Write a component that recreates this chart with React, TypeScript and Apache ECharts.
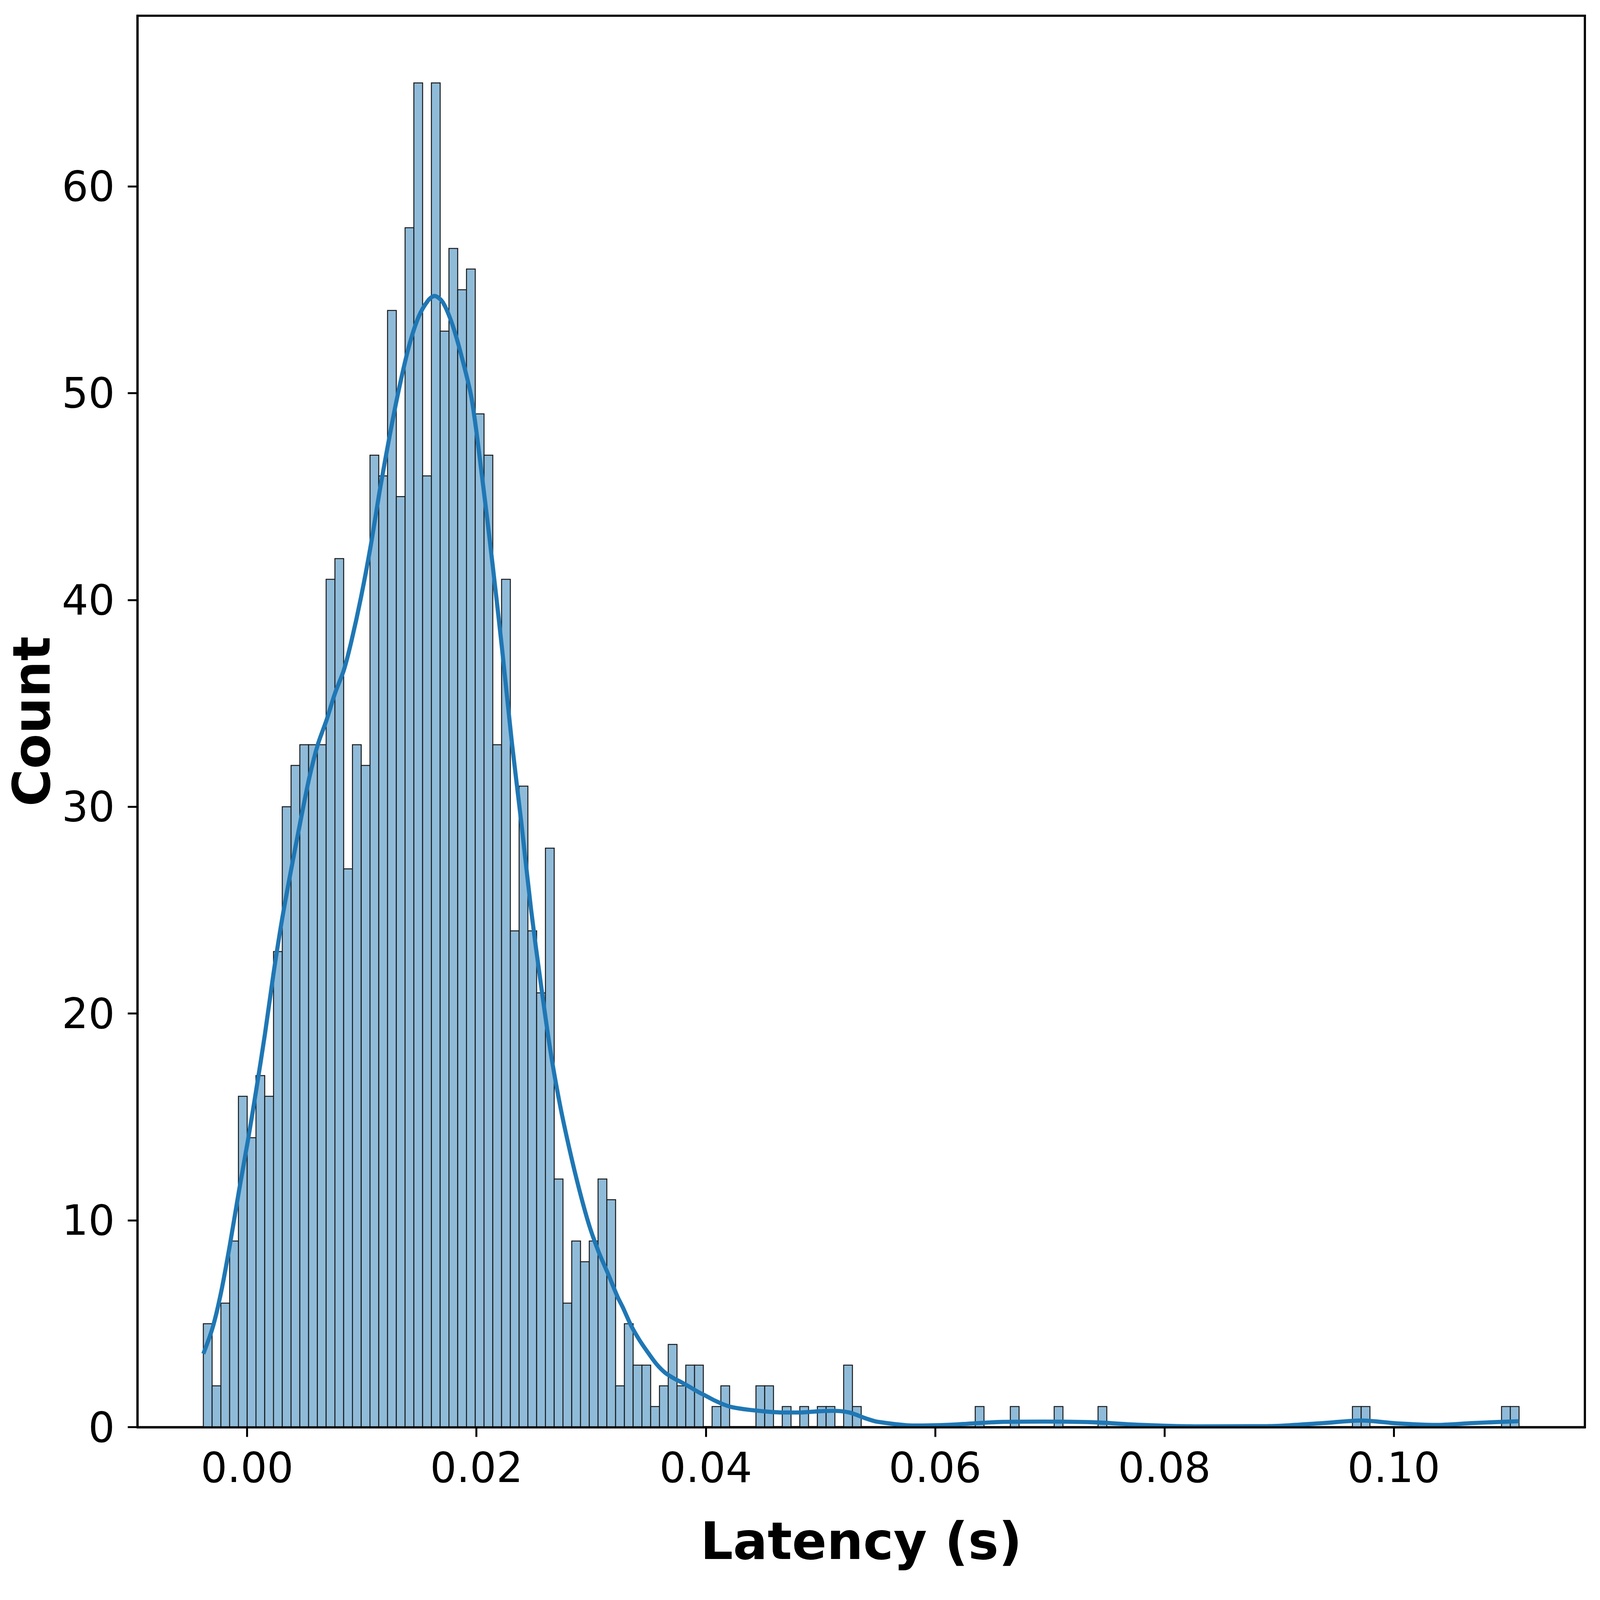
import * as echarts from "echarts";
import { useEffect, useRef, useState } from "react";

// histogram bins (150 equal bins)
const binStart = -0.00382;
const binWidth = 0.000765;
const counts = [
  5, 2, 6, 9, 16, 14, 17, 16, 23, 30,
  32, 33, 33, 33, 41, 42, 27, 33, 32, 47,
  46, 54, 45, 58, 65, 46, 65, 53, 57, 55,
  56, 49, 47, 33, 41, 24, 31, 24, 21, 28,
  12, 6, 9, 8, 9, 12, 11, 2, 5, 3,
  3, 1, 2, 4, 2, 3, 3, 0, 1, 2,
  0, 0, 0, 2, 2, 0, 1, 0, 1, 0,
  1, 1, 0, 3, 1, 0, 0, 0, 0, 0,
  0, 0, 0, 0, 0, 0, 0, 0, 1, 0,
  0, 0, 1, 0, 0, 0, 0, 1, 0, 0,
  0, 0, 1, 0, 0, 0, 0, 0, 0, 0,
  0, 0, 0, 0, 0, 0, 0, 0, 0, 0,
  0, 0, 0, 0, 0, 0, 0, 0, 0, 0,
  0, 1, 1, 0, 0, 0, 0, 0, 0, 0,
  0, 0, 0, 0, 0, 0, 0, 0, 1, 1,
];

// KDE curve
const kdeX = [
  -0.00382, -0.003, -0.00227, -0.00151, -0.00072, 0.00008, 0.00079, 0.00155,
  0.00229, 0.00306, 0.00385, 0.00465, 0.00542, 0.00616, 0.00693, 0.00767,
  0.00843, 0.00909, 0.00992, 0.01077, 0.0116, 0.01245, 0.01328, 0.01413,
  0.01496, 0.01581, 0.01634, 0.01706, 0.01791, 0.01874, 0.01959, 0.02048,
  0.02141, 0.02224, 0.02309, 0.02392, 0.02477, 0.0256, 0.02645, 0.02728,
  0.02813, 0.02896, 0.02981, 0.03064, 0.03149, 0.03231, 0.03276, 0.0335,
  0.03423, 0.03497, 0.03569, 0.03644, 0.03716, 0.03788, 0.03862, 0.03935,
  0.04009, 0.04081, 0.04155, 0.04228, 0.04374, 0.04521, 0.04668, 0.04814,
  0.04959, 0.05105, 0.05252, 0.05398, 0.05498, 0.05817, 0.06136, 0.06558,
  0.06949, 0.07372, 0.07763, 0.0826, 0.089, 0.09388, 0.09715, 0.1004,
  0.10366, 0.10691, 0.11093,
];
const kdeY = [
  3.55, 4.83, 6.53, 8.8, 11.4, 13.9, 16.3, 19.0,
  21.9, 24.6, 27.0, 29.3, 31.4, 33.0, 34.2, 35.5,
  36.6, 38.0, 40.1, 42.6, 45.4, 48.0, 50.3, 52.3,
  53.7, 54.5, 54.7, 54.4, 53.3, 51.7, 49.7, 46.0,
  41.7, 37.6, 33.1, 29.2, 25.0, 21.5, 18.2, 15.6,
  13.4, 11.5, 9.8, 8.5, 7.4, 6.3, 5.8, 4.9,
  4.2, 3.6, 3.06, 2.64, 2.38, 2.17, 1.94, 1.7,
  1.49, 1.28, 1.1, 0.97, 0.84, 0.76, 0.71, 0.71,
  0.76, 0.79, 0.71, 0.42, 0.26, 0.08, 0.12, 0.25,
  0.27, 0.24, 0.12, 0.04, 0.05, 0.2, 0.32, 0.18,
  0.11, 0.2, 0.29,
];

const xTicks = [0, 0.02, 0.04, 0.06, 0.08, 0.1];
const yTicks = [0, 10, 20, 30, 40, 50, 60];

// reference canvas size; the layout below is in these pixels
const W = 6562;
const H = 4879;

export default function App() {
  const chartRef = useRef<HTMLDivElement | null>(null);
  const [size] = useState(() => ({
    w: window.innerWidth || W,
    h: window.innerHeight || H,
  }));

  useEffect(() => {
    const el = chartRef.current;
    if (!el) return;
    const chart = echarts.init(el, undefined, { renderer: "svg" });

    // scale everything to the viewport that we actually get
    const sx = size.w / W;
    const sy = size.h / H;
    const s = Math.min(sx, sy);

    const bins = counts.map((c, i) => [
      binStart + i * binWidth,
      binStart + (i + 1) * binWidth,
      c,
    ]);
    const kde = kdeX.map((x, i) => [x, kdeY[i]]);

    const tickFont = {
      fontFamily: "DejaVu Sans",
      fontSize: 171 * s,
      color: "#000",
    };
    const nameFont = {
      fontFamily: "DejaVu Sans",
      fontWeight: "bold" as const,
      fontSize: 210 * s,
      color: "#000",
    };

    const option: echarts.EChartsOption = {
      animation: false,
      backgroundColor: "#fff",
      grid: {
        left: 564 * sx,
        top: 48 * sy,
        width: 5936 * sx,
        height: 4304 * sy,
        show: true,
        borderColor: "#000",
        borderWidth: 9 * s,
        backgroundColor: "transparent",
      },
      xAxis: {
        type: "value",
        min: -0.00956,
        max: 0.11667,
        z: 5,
        name: "Latency (s)",
        nameLocation: "middle",
        nameGap: 270 * sy,
        nameTextStyle: nameFont,
        axisLine: {
          show: true,
          onZero: false,
          lineStyle: { color: "#000", width: 9 * s },
        },
        axisTick: {
          show: true,
          length: 40 * s,
          lineStyle: { color: "#000", width: 8 * s },
          customValues: xTicks,
        },
        axisLabel: {
          ...tickFont,
          margin: 60 * sy,
          customValues: xTicks,
          formatter: (v: number) => v.toFixed(2),
        },
        splitLine: { show: false },
      },
      yAxis: {
        type: "value",
        min: 0,
        max: 68.25,
        z: 5,
        name: "Count",
        nameLocation: "middle",
        nameGap: 325 * sx,
        nameRotate: 90,
        nameTextStyle: nameFont,
        axisLine: {
          show: true,
          onZero: false,
          lineStyle: { color: "#000", width: 9 * s },
        },
        axisTick: {
          show: true,
          length: 40 * s,
          lineStyle: { color: "#000", width: 8 * s },
          customValues: yTicks,
        },
        axisLabel: {
          ...tickFont,
          margin: 93 * sx,
          customValues: yTicks,
          formatter: (v: number) => String(Math.round(v)),
        },
        splitLine: { show: false },
      },
      series: [
        {
          type: "custom",
          name: "Count",
          data: bins,
          encode: { x: [0, 1], y: 2 },
          renderItem: (params: any, api: any) => {
            const c = api.value(2);
            if (!c) return null;
            const p0 = api.coord([api.value(0), c]);
            const p1 = api.coord([api.value(1), 0]);
            return {
              type: "rect",
              shape: {
                x: p0[0],
                y: p0[1],
                width: p1[0] - p0[0],
                height: p1[1] - p0[1],
              },
              style: {
                fill: "#8fbbd9",
                stroke: "#1a1a1a",
                lineWidth: 4 * s,
              },
            };
          },
          z: 2,
        },
        {
          type: "line",
          name: "KDE",
          data: kde,
          smooth: 0.3,
          showSymbol: false,
          lineStyle: { color: "#1f77b4", width: 17 * s },
          z: 3,
        },
      ],
    };

    chart.setOption(option);

    return () => {
      if (!chart.isDisposed()) chart.dispose();
    };
  }, [size]);

  return (
    <div
      ref={chartRef}
      style={{ position: "fixed", left: 0, top: 0, width: size.w, height: size.h }}
    />
  );
}
